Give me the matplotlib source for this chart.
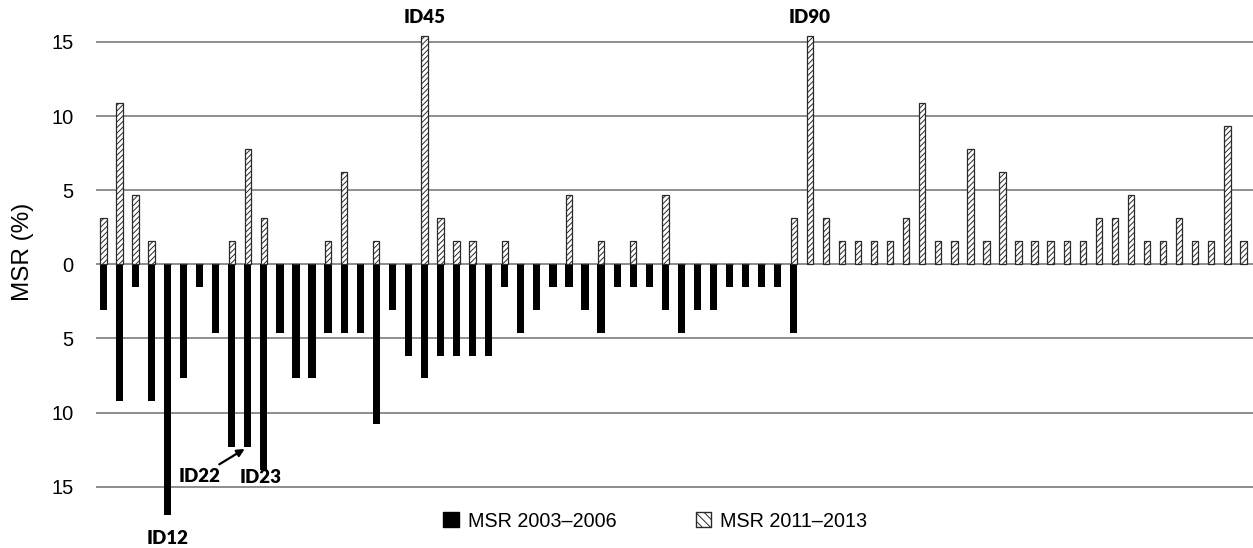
import numpy as np
import matplotlib
matplotlib.use("Agg")
import matplotlib.pyplot as plt
from matplotlib.patches import Patch
from matplotlib.ticker import FuncFormatter

plt.rcParams['font.family'] = ['Liberation Sans', 'DejaVu Sans']
plt.rcParams['hatch.linewidth'] = 0.7

# MSR per patient slot, 2003-2006 (drawn downwards) and 2011-2013 (upwards)
msr_2003 = [3.1, 9.2, 1.5, 9.2, 16.9, 7.7, 1.5, 4.6, 12.3, 12.3, 13.9, 4.6,
            7.7, 7.7, 4.6, 4.6, 4.6, 10.8, 3.1, 6.2, 7.7, 6.2, 6.2, 6.2,
            6.2, 1.5, 4.6, 3.1, 1.5, 1.5, 3.1, 4.6, 1.5, 1.5, 1.5, 3.1,
            4.6, 3.1, 3.1, 1.5, 1.5, 1.5, 1.5, 4.6, 0, 0, 0, 0,
            0, 0, 0, 0, 0, 0, 0, 0, 0, 0, 0, 0,
            0, 0, 0, 0, 0, 0, 0, 0, 0, 0, 0, 0]
msr_2011 = [3.1, 10.9, 4.7, 1.6, 0, 0, 0, 0, 1.6, 7.8, 3.1, 0,
            0, 0, 1.6, 6.2, 0, 1.6, 0, 0, 15.4, 3.1, 1.6, 1.6,
            0, 1.6, 0, 0, 0, 4.7, 0, 1.6, 0, 1.6, 0, 4.7,
            0, 0, 0, 0, 0, 0, 0, 3.1, 15.4, 3.1, 1.6, 1.6,
            1.6, 1.6, 3.1, 10.9, 1.6, 1.6, 7.8, 1.6, 6.2, 1.6,
            1.6, 1.6, 1.6, 1.6, 3.1, 3.1, 4.7, 1.6, 1.6, 3.1, 1.6, 1.6, 9.3, 1.6]
yticks = [-15, -10, -5, 0, 5, 10, 15]

x = np.arange(len(msr_2003))

fig = plt.figure(figsize=(12.53, 5.48), dpi=100)
ax = fig.add_axes([96/1253, 0.0442, 1 - 96/1253, 0.947])

ax.bar(x, -np.array(msr_2003), width=0.45, color='black', zorder=3)
ax.bar(x, msr_2011, width=0.4, color='white', edgecolor='#2a2a2a',
       hatch='//////', linewidth=0.9, zorder=3)

ax.set_xlim(-0.455, 71.6)
ax.set_ylim(-17.5, 17.5)
ax.set_yticks(yticks)
ax.yaxis.set_major_formatter(FuncFormatter(lambda v, p: '%d' % abs(v)))
ax.grid(axis='y', color='#7a7a7a', linewidth=1.2, zorder=0)
ax.tick_params(axis='y', length=0, pad=16, labelsize=14.5)
ax.tick_params(axis='x', length=0, labelbottom=False)
for s in ax.spines.values():
    s.set_visible(False)
fig.text(0.018, 0.54, 'MSR (%)', rotation=90, fontsize=17.5,
         ha='center', va='center')

# ID annotations
idfont = dict(family=['Lato', 'DejaVu Sans'], fontweight='heavy', fontsize=13.5,
              ha='center', va='center', annotation_clip=False)
ax.annotate('ID45', xy=(20, 16.65), **idfont)
ax.annotate('ID90', xy=(44, 16.65), **idfont)
ax.annotate('ID12', xy=(4, -18.5), **idfont)
ax.annotate('ID23', xy=(9.8, -14.4), **idfont)
ax.annotate('ID22', xy=(8.8, -12.45), xytext=(6.0, -14.3),
            arrowprops=dict(arrowstyle='-|>', color='black', lw=1.6,
                            mutation_scale=11, shrinkA=1, shrinkB=0),
            **idfont)

handles = [Patch(facecolor='black', edgecolor='black'),
           Patch(facecolor='white', edgecolor='#2a2a2a', hatch='\\\\\\\\')]
fig.legend(handles, ['MSR 2003\u20132006', 'MSR 2011\u20132013'],
           loc='center', bbox_to_anchor=(0.523, 0.049), ncol=2, frameon=False,
           fontsize=14.2, handlelength=0.8, handleheight=0.8,
           handletextpad=0.45, columnspacing=4.0)

fig.savefig('out.png', dpi=100)
